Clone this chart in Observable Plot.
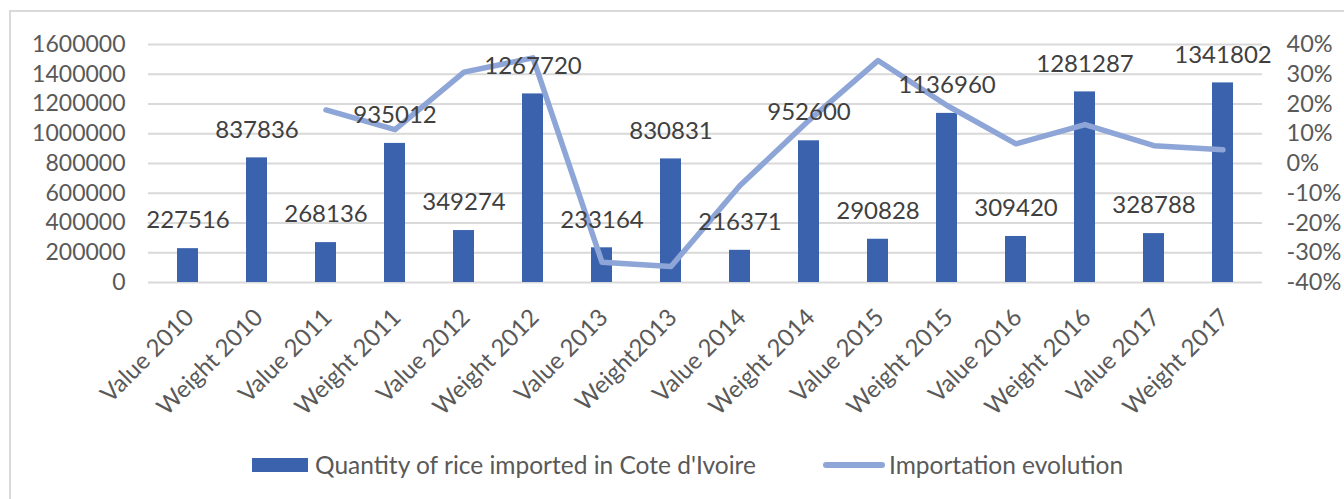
<!DOCTYPE html>
<html>
<head>
<meta charset="utf-8">
<script src="https://cdn.jsdelivr.net/npm/d3@7"></script>
<script src="https://cdn.jsdelivr.net/npm/@observablehq/plot@0.6"></script>
<style>
  html, body { margin: 0; padding: 0; background: #fff; }
  body { width: 1344px; height: 499px; position: relative; overflow: hidden; font-family: Lato, sans-serif; }
  #frame { position: absolute; left: 9px; top: 10px; width: 1400px; height: 600px; border-left: 2px solid #d9d9d9; border-top: 2px solid #d9d9d9; }
  #chart { position: absolute; left: 0; top: 0; }
  #legend { position: absolute; top: 450px; left: 0; width: 1344px; height: 30px; font-size: 24.5px; color: #595959; }
  .sw { position: absolute; }
  .lt { position: absolute; top: 0; line-height: 30px; white-space: nowrap; }
</style>
</head>
<body>
<div id="frame"></div>
<div id="chart"></div>
<div id="legend">
  <div class="sw" style="left:252px; top:8px; width:56px; height:14px; background:#3a62ad;"></div>
  <div class="lt" style="left:315px;">Quantity of rice imported in Cote d'Ivoire</div>
  <div class="sw" style="left:823px; top:12px; width:62px; height:6px; border-radius:3px; background:#8ea5d7;"></div>
  <div class="lt" style="left:889px;">Importation evolution</div>
</div>
<script>
const categories = ["Value 2010","Weight 2010","Value 2011","Weight 2011","Value 2012","Weight 2012","Value 2013","Weight2013","Value 2014","Weight 2014","Value 2015","Weight 2015","Value 2016","Weight 2016","Value 2017","Weight 2017"];
const quantities = [227516,837836,268136,935012,349274,1267720,233164,830831,216371,952600,290828,1136960,309420,1281287,328788,1341802];
const evolution = [null,null,0.18,0.114,0.307,0.355,-0.332,-0.346,-0.074,0.145,0.346,0.195,0.066,0.131,0.06,0.046];
const leftTicks = [0,200000,400000,600000,800000,1000000,1200000,1400000,1600000];
const rightTicks = [-0.4,-0.3,-0.2,-0.1,0,0.1,0.2,0.3,0.4];

const leftMax = 1600000;
const rMin = -0.4, rMax = 0.4;
const toLeft = p => (p - rMin) / (rMax - rMin) * leftMax;
const fromLeft = v => v / leftMax * (rMax - rMin) + rMin;

const bars = categories.map((c, i) => ({cat: c, q: quantities[i]}));
const linePts = categories.map((c, i) => ({cat: c, p: evolution[i]})).filter(d => d.p !== null);

const chart = Plot.plot({
  width: 1344,
  height: 420,
  marginTop: 44,
  marginLeft: 148,
  marginRight: 82,
  marginBottom: 138,
  style: {fontFamily: "Lato, sans-serif", fontSize: "23px", color: "#595959", background: "transparent", overflow: "visible"},
  x: {domain: categories, paddingInner: 0.7, paddingOuter: 0.35, label: null},
  y: {domain: [0, leftMax], label: null},
  marks: [
    Plot.gridY(leftTicks, {stroke: "#d9d9d9", strokeOpacity: 1, strokeWidth: 2}),
    Plot.axisY(leftTicks, {anchor: "left", tickSize: 0, tickPadding: 23, tickFormat: d => String(d), fill: "#595959", fontSize: 23, label: null}),
    Plot.axisY(rightTicks.map(toLeft), {anchor: "right", tickSize: 0, tickPadding: 24, tickFormat: v => Math.round(fromLeft(v) * 100) + "%", fill: "#595959", fontSize: 23.5, label: null}),
    Plot.barY(bars, {x: "cat", y: "q", fill: "#3a62ad"}),
    Plot.line(linePts, {x: "cat", y: d => toLeft(d.p), stroke: "#8ea5d7", strokeWidth: 5.5, strokeLinejoin: "round"}),
    Plot.text(bars, {x: "cat", y: "q", text: d => String(d.q), dy: -28, fill: "#404040", fontSize: 24, lineAnchor: "middle"}),
    Plot.axisX({anchor: "bottom", tickSize: 0, tickPadding: 0, tickRotate: -45, textAnchor: "end", lineAnchor: "middle", dy: 31, dx: 2, fill: "#595959", fontSize: 24, label: null})
  ]
});
document.getElementById("chart").appendChild(chart);
</script>
</body>
</html>
